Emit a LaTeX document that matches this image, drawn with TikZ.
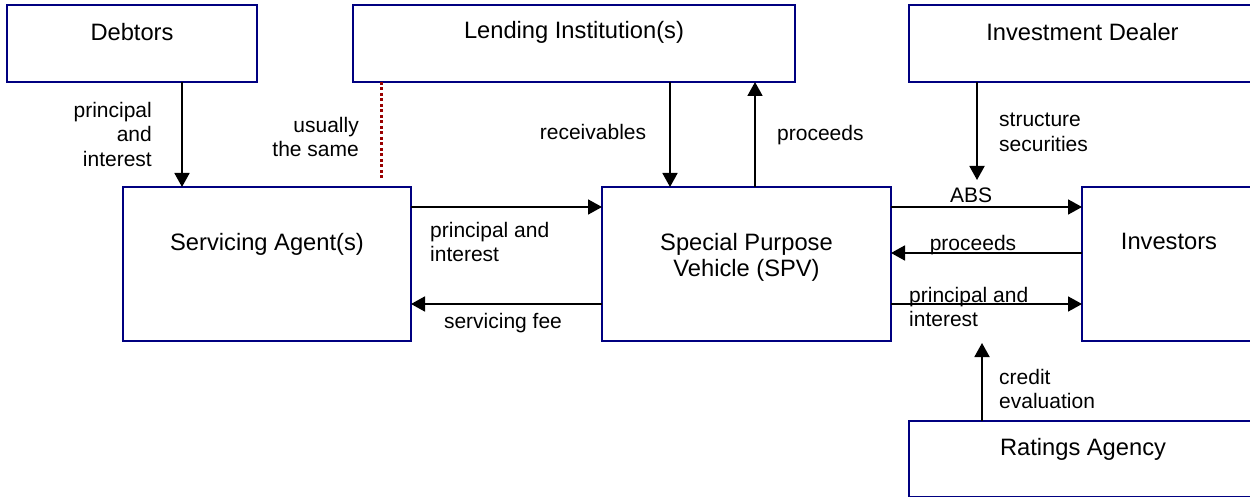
\documentclass[tikz,border=0pt]{standalone}
\usepackage{fontspec}
\setmainfont{Liberation Sans}
\usetikzlibrary{arrows.meta}
\definecolor{boxblue}{HTML}{000080}
\definecolor{dotred}{HTML}{990000}
\begin{document}
\begin{tikzpicture}[x=1pt,y=-1pt,
  box/.style={draw=boxblue, line width=2pt, inner sep=0pt, outer sep=0pt},
  boxtext/.style={font=\fontsize{23.7}{26.5}\selectfont, align=center, inner sep=0pt, anchor=north},
  edgetext/.style={font=\fontsize{21}{24.5}\selectfont, inner sep=0pt},
  arr/.style={line width=1.8pt, -{Triangle[length=14pt,width=15pt]}},
  samelink/.style={draw=dotred, line width=3pt, dash pattern=on 3pt off 2.5pt}]
\useasboundingbox (0,0) rectangle (1250,497);

% boxes
\node[box, minimum width=250pt, minimum height=77pt,
  label={[boxtext, yshift=-18pt]north:Debtors}] (deb) at (132,43.5) {};
\node[box, minimum width=442pt, minimum height=77pt,
  label={[boxtext, yshift=-16pt]north:Lending Institution(s)}] (lend) at (574,43.5) {};
\node[box, minimum width=347pt, minimum height=77pt,
  label={[boxtext, yshift=-18pt]north:Investment Dealer}] (invd) at (1082.5,43.5) {};
\node[box, minimum width=288pt, minimum height=154pt,
  label={[boxtext, yshift=-46pt]north:Servicing Agent(s)}] (sa) at (267,264) {};
\node[box, minimum width=289pt, minimum height=154pt,
  label={[boxtext, yshift=-46pt]north:Special Purpose\\Vehicle (SPV)}] (spv) at (746.5,264) {};
\node[box, minimum width=174pt, minimum height=154pt,
  label={[boxtext, yshift=-46pt]north:Investors}] (inv) at (1169,264) {};
\node[box, minimum width=348pt, minimum height=76pt,
  label={[boxtext, yshift=-17pt]north:Ratings Agency}] (rat) at (1083,459) {};

% helper coordinates
\coordinate (r1) at (0,207);
\coordinate (r2) at (0,253);
\coordinate (r3) at (0,304);
\coordinate (c1) at (182,0);
\coordinate (c2) at (381,0);
\coordinate (c3) at (670,0);
\coordinate (c4) at (755,0);
\coordinate (c5) at (977,0);
\coordinate (c6) at (982,0);
\coordinate (dotend) at (381,178);
\coordinate (absend) at (977,180);
\coordinate (crend) at (982,343);

% connectors
\draw[arr] (deb.south -| c1) -- (sa.north -| c1);
\draw[samelink] (lend.south -| c2) -- (dotend);
\draw[arr] (lend.south -| c3) -- (spv.north -| c3);
\draw[arr] (spv.north -| c4) -- (lend.south -| c4);
\draw[arr] (invd.south -| c5) -- (absend);
\draw[arr] (sa.east |- r1) -- (spv.west |- r1);
\draw[arr] (spv.west |- r3) -- (sa.east |- r3);
\draw[arr] (spv.east |- r1) -- (inv.west |- r1);
\draw[arr] (inv.west |- r2) -- (spv.east |- r2);
\draw[arr] (spv.east |- r3) -- (inv.west |- r3);
\draw[arr] (rat.north -| c6) -- (crend);

% edge labels
\node[edgetext, align=right, anchor=north east] (l1) at (152,102) {principal\\and\\interest};
\node[edgetext, align=right, anchor=north east] (l2) at (359,117) {usually\\the same};
\node[edgetext, anchor=north] (l3) at (593,124) {receivables};
\node[edgetext, anchor=north west] (l4) at (777,125) {proceeds};
\node[edgetext, align=left, anchor=north west] (l5) at (999,113) {structure\\securities};
\node[edgetext, align=left, anchor=north west] (l6) at (430,222) {principal and\\interest};
\node[edgetext, anchor=north] (l7) at (503,313) {servicing fee};
\node[edgetext, anchor=north] (l8) at (971,188) {ABS};
\node[edgetext, anchor=north] (l9) at (973,235) {proceeds};
\node[edgetext, align=left, anchor=north west] (l10) at (909,287) {principal and\\interest};
\node[edgetext, align=left, anchor=north west] (l11) at (999,369) {credit\\evaluation};
\end{tikzpicture}
\end{document}
